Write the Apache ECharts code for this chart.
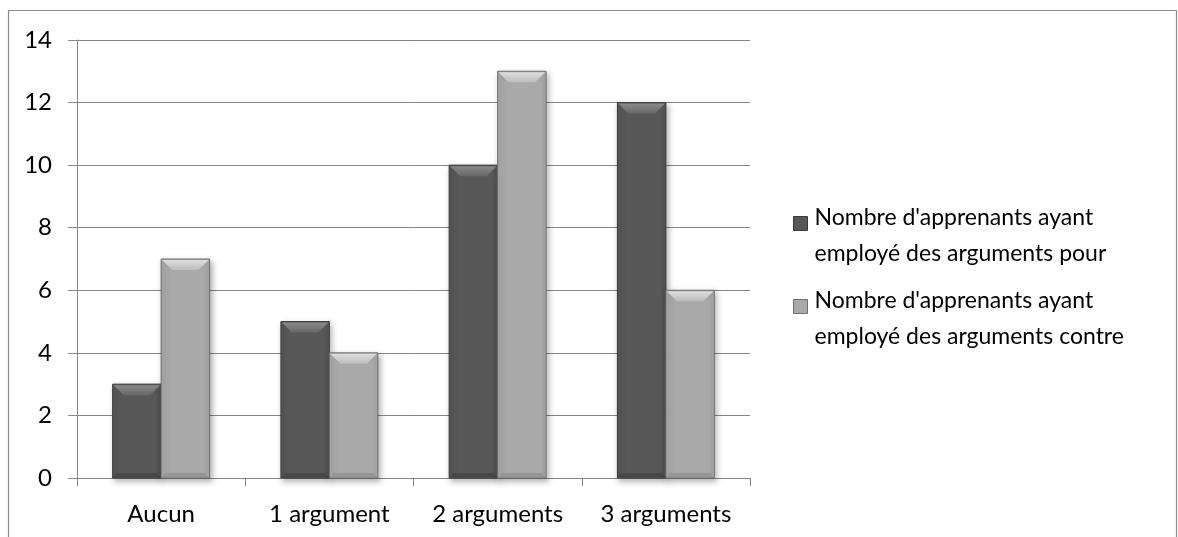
<!DOCTYPE html>
<html>
<head>
<meta charset="utf-8">
<script src="https://cdn.jsdelivr.net/npm/echarts@6/dist/echarts.min.js"></script>
<style>
  html, body { margin: 0; padding: 0; background: #fff; }
  #chart { width: 1178px; height: 537px; }
</style>
</head>
<body>
<div id="chart"></div>
<script>
// Categories and values
const categories = ['Aucun', '1 argument', '2 arguments', '3 arguments'];
const seriesNames = [
  "Nombre d'apprenants ayant\nemployé des arguments pour",
  "Nombre d'apprenants ayant\nemployé des arguments contre"
];
const argumentsPour = [3, 5, 10, 12];
const argumentsContre = [7, 4, 13, 6];
const yTicks = [0, 2, 4, 6, 8, 10, 12, 14];

const FONT = 'Lato';
const AXIS_GRAY = '#878787';

// Shading for the bevelled bars (dark series, light series)
const palettes = [
  { body: '#585858', topA: '#8a8a8a', topB: '#676767', side: '#525252', bottom: '#474747', line: '#3a3a3a' },
  { body: '#a9a9a9', topA: '#dedede', topB: '#bcbcbc', side: '#a2a2a2', bottom: '#969696', line: '#6e6e6e' }
];

const BAR_RATIO = 0.288;

function makeRenderer(seriesIdx) {
  const pal = palettes[seriesIdx];
  return function (params, api) {
    const cat = api.value(0);
    const val = api.value(1);
    const base = api.coord([cat, 0]);
    const top = api.coord([cat, val]);
    const band = api.size([1, 0])[0];
    const w = band * BAR_RATIO;
    const x0 = seriesIdx === 0 ? base[0] - w : base[0];
    const x1 = x0 + w;
    const y0 = top[1];
    const y1 = base[1];
    const h = y1 - y0;
    const b = Math.min(11, h / 2, w / 2);
    const bs = Math.min(4, w / 4);
    const bb = Math.min(5, h / 3);
    return {
      type: 'group',
      children: [
        {
          type: 'rect',
          shape: { x: x0, y: y0, width: w, height: h },
          style: {
            fill: pal.body, stroke: pal.line, lineWidth: 1,
            shadowBlur: 6, shadowOffsetX: 2, shadowOffsetY: 3,
            shadowColor: 'rgba(0,0,0,0.3)'
          }
        },
        {
          type: 'polygon',
          shape: { points: [[x0 + 1, y0 + 1], [x0 + bs, y0 + b], [x0 + bs, y1 - bb], [x0 + 1, y1 - 1]] },
          style: { fill: pal.side }
        },
        {
          type: 'polygon',
          shape: { points: [[x1 - 1, y0 + 1], [x1 - bs, y0 + b], [x1 - bs, y1 - bb], [x1 - 1, y1 - 1]] },
          style: { fill: pal.side }
        },
        {
          type: 'polygon',
          shape: { points: [[x0 + 1, y1 - 1], [x0 + bs, y1 - bb], [x1 - bs, y1 - bb], [x1 - 1, y1 - 1]] },
          style: { fill: pal.bottom }
        },
        {
          type: 'polygon',
          shape: { points: [[x0 + 1, y0 + 1], [x1 - 1, y0 + 1], [x1 - b, y0 + b], [x0 + b, y0 + b]] },
          style: {
            fill: new echarts.graphic.LinearGradient(0, 0, 0, 1, [
              { offset: 0, color: pal.topA },
              { offset: 1, color: pal.topB }
            ])
          }
        }
      ]
    };
  };
}

// Legend text: a spacer line on top keeps the marker beside the first line
function legendLabel(name) {
  return '{s| }\n' + name.split('\n').map(l => '{t|' + l + '}').join('\n');
}

const chart = echarts.init(document.getElementById('chart'), null, { renderer: 'canvas' });

chart.setOption({
  animation: false,
  backgroundColor: '#ffffff',
  textStyle: { fontFamily: FONT },
  graphic: [
    {
      type: 'rect',
      shape: { x: 8.5, y: 10.5, width: 1168, height: 540 },
      style: { fill: 'none', stroke: '#8c8c8c', lineWidth: 1.2 },
      silent: true
    }
  ],
  grid: { left: 77, right: 428, top: 40, bottom: 59, containLabel: false },
  legend: {
    orient: 'vertical',
    left: 788,
    top: 182,
    itemWidth: 14,
    itemHeight: 14,
    itemGap: 5,
    icon: 'rect',
    selectedMode: false,
    formatter: legendLabel,
    textStyle: {
      fontFamily: FONT, fontSize: 23, color: '#000',
      padding: [0, 0, 0, 2],
      rich: {
        s: { fontSize: 1, lineHeight: 24 },
        t: { fontFamily: FONT, fontSize: 23, color: '#000', lineHeight: 36 }
      }
    },
    data: [
      { name: seriesNames[0], itemStyle: { color: palettes[0].body, borderColor: palettes[0].line, borderWidth: 1 } },
      { name: seriesNames[1], itemStyle: { color: palettes[1].body, borderColor: palettes[1].line, borderWidth: 1 } }
    ]
  },
  xAxis: {
    type: 'category',
    data: categories,
    boundaryGap: true,
    axisLine: { lineStyle: { color: AXIS_GRAY, width: 1 } },
    axisTick: { show: true, length: 8, interval: 0, lineStyle: { color: AXIS_GRAY } },
    axisLabel: { color: '#000', fontFamily: FONT, fontSize: 24, margin: 24, interval: 0 },
    splitLine: { show: false }
  },
  yAxis: {
    type: 'value',
    min: yTicks[0],
    max: yTicks[yTicks.length - 1],
    interval: yTicks[1] - yTicks[0],
    axisLine: { show: true, lineStyle: { color: AXIS_GRAY, width: 1 } },
    axisTick: { show: true, length: 9, lineStyle: { color: AXIS_GRAY } },
    axisLabel: { color: '#000', fontFamily: FONT, fontSize: 24, margin: 25 },
    splitLine: { show: true, lineStyle: { color: AXIS_GRAY, width: 1 } }
  },
  series: [
    {
      name: seriesNames[0],
      type: 'custom',
      renderItem: makeRenderer(0),
      encode: { x: 0, y: 1 },
      itemStyle: { color: palettes[0].body },
      data: argumentsPour.map((v, i) => [i, v]),
      z: 2
    },
    {
      name: seriesNames[1],
      type: 'custom',
      renderItem: makeRenderer(1),
      encode: { x: 0, y: 1 },
      itemStyle: { color: palettes[1].body },
      data: argumentsContre.map((v, i) => [i, v]),
      z: 2
    }
  ]
});
</script>
</body>
</html>
